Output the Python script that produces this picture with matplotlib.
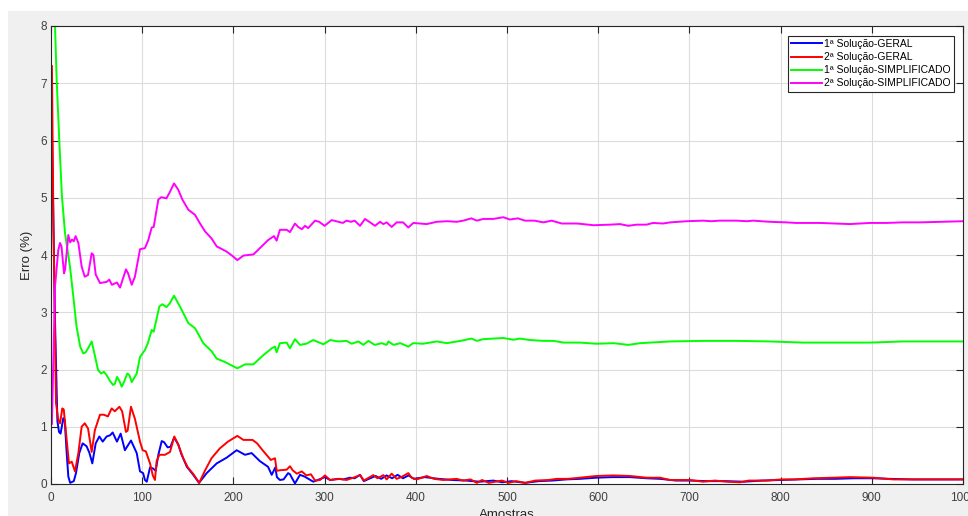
import matplotlib
matplotlib.use("Agg")
import matplotlib.pyplot as plt
from matplotlib.patches import Rectangle

# Leituras do gráfico (amostra, erro %)
x_geral1 = [1, 4.4, 7, 8.8, 10.5, 13.5, 15, 17.2, 19, 21, 25, 27.4, 31, 34.7, 39, 42, 45.3, 49, 53, 56.7,
            61, 64.7, 67.6, 72.3, 76.4, 81, 87.7, 94, 97.6, 101, 103, 105, 108.6, 112, 114.8, 117.7, 121.4,
            124, 127.9, 131, 135, 139.5, 143, 149, 156, 162.3, 170.7, 181.7, 192.6, 203.6, 212.7, 220, 229,
            238, 242, 246, 247.7, 251, 255, 260, 262, 267.5, 273, 278, 287.6,
            300.4, 306, 315, 320.5, 327.8, 333, 338.8, 343, 350, 356, 362, 368, 374, 380, 386, 392, 398, 410,
            425, 440, 455, 470, 485, 495, 505, 520, 535, 550, 565, 580, 598, 615, 635, 653, 668, 685, 700,
            720, 740, 760, 780, 800, 820, 840, 860, 880, 900, 920, 945, 970, 1000]
y_geral1 = [6.2, 2.86, 1.1, 0.91, 0.88, 1.15, 1.12, 0.54, 0.13, 0.02, 0.05, 0.19, 0.54, 0.71, 0.66, 0.55, 0.36,
            0.71, 0.83, 0.74, 0.83, 0.85, 0.90, 0.74, 0.88, 0.59, 0.76, 0.54, 0.22, 0.19, 0.07, 0.04, 0.29,
            0.27, 0.23, 0.51, 0.75, 0.73, 0.64, 0.65, 0.81, 0.69, 0.52, 0.30, 0.16, 0.02, 0.19, 0.36, 0.46,
            0.59, 0.51, 0.54, 0.40, 0.30, 0.16, 0.29, 0.12, 0.07, 0.08, 0.19, 0.17, 0.01, 0.16, 0.13, 0.04,
            0.12, 0.07, 0.09, 0.08, 0.11, 0.10, 0.16, 0.05, 0.10, 0.14, 0.09, 0.15, 0.10, 0.16, 0.10, 0.15,
            0.09, 0.12, 0.09, 0.07, 0.06, 0.04, 0.06, 0.03, 0.05, 0.02, 0.05, 0.06, 0.08, 0.09, 0.11, 0.12,
            0.12, 0.10, 0.09, 0.06, 0.06, 0.05, 0.05, 0.04, 0.06, 0.07, 0.08, 0.09, 0.09, 0.10, 0.10, 0.09,
            0.08, 0.08, 0.08]

x_geral2 = [1, 2.6, 5.5, 8, 9.9, 12.4, 14, 17.2, 19.7, 22.7, 26.3, 30, 33.6, 37, 40.6, 44.6, 48.1, 53.7, 58,
            62.4, 66.5, 70, 75, 78, 82.2, 84, 87.7, 92, 97.6, 100.5, 104, 108.6, 111.6, 114, 115.8, 118.8, 125,
            130.5, 135.2, 139.5, 145, 150, 156, 162.5, 169, 176, 185, 194, 204.3, 211, 221, 226, 232, 241,
            245.6, 247.5, 251, 258.4, 262, 265, 269.6, 275, 280, 285, 289.5, 295, 300.4,
            306, 317, 324, 331.5, 339, 343, 353.4, 358, 364.4, 368, 373.5, 379, 384, 391.8, 395.4, 401, 412,
            420, 430, 444.6, 452, 460, 467, 472.6, 480, 494.5, 501.8, 510, 520, 531, 545.6, 554.5, 567, 580,
            598, 616.6, 635, 653, 668, 678.6, 700.7, 715, 728, 741, 755.5, 765, 784.6, 801, 815, 836, 857.6,
            876, 902, 923.6, 942, 970, 1000]
y_geral2 = [7.3, 4.61, 1.41, 1.12, 1.06, 1.32, 1.30, 0.77, 0.36, 0.39, 0.22, 0.54, 1.00, 1.06, 0.97, 0.56,
            0.94, 1.21, 1.21, 1.18, 1.32, 1.27, 1.35, 1.27, 0.91, 0.93, 1.35, 1.14, 0.74, 0.59, 0.57, 0.36,
            0.15, 0.07, 0.40, 0.51, 0.51, 0.56, 0.83, 0.69, 0.45, 0.29, 0.175, 0.02, 0.24, 0.45, 0.62, 0.74,
            0.84, 0.77, 0.77, 0.71, 0.59, 0.42, 0.45, 0.23, 0.24, 0.25, 0.31, 0.24, 0.18, 0.22, 0.15, 0.17,
            0.06, 0.07, 0.15,
            0.07, 0.09, 0.07, 0.11, 0.155, 0.06, 0.155, 0.10, 0.155, 0.08, 0.18, 0.09, 0.12, 0.19, 0.11, 0.08,
            0.14, 0.09, 0.07, 0.09, 0.06, 0.08, 0.02, 0.07, 0.02, 0.06, 0.02, 0.05, 0.02, 0.06, 0.07, 0.09,
            0.09, 0.11, 0.14, 0.15, 0.14, 0.11, 0.11, 0.07, 0.07, 0.04, 0.06, 0.04, 0.03, 0.06, 0.06, 0.08,
            0.08, 0.10, 0.11, 0.12, 0.11, 0.08, 0.08, 0.08, 0.08]

x_simp1 = [1, 4.4, 6.2, 9.1, 12, 15.4, 20.8, 24.5, 28, 32, 35.4, 38, 41, 44.6, 48, 51.6, 55, 58, 61, 64.7,
           68, 70, 72.4, 75, 77.5, 80, 83.7, 86, 88.5, 94, 97.6, 103, 106, 110.4, 112.6, 118.8, 122, 126.6,
           130, 134.9, 141.4, 150.6, 158, 167, 176, 181.7, 190.8, 204.3, 212.7, 221.9, 232.8, 242, 245.6,
           247.4, 251, 258.4, 262, 267.5, 273, 280, 287.6, 298.6, 306, 315, 324, 329.7, 337, 342.5, 348,
           355, 362.6, 368, 370, 375.5, 383, 391.8, 397, 408, 423, 434, 449, 461, 467, 474, 485, 496, 507,
           514, 525, 540, 551, 562, 580, 598, 617, 633, 646, 679, 715, 752, 788, 825, 861, 898, 934, 1000]
y_simp1 = [9.2, 8.0, 7.06, 6.0, 5.02, 4.38, 3.80, 3.27, 2.75, 2.40, 2.28, 2.30, 2.38, 2.49, 2.25, 1.99, 1.93,
           1.96, 1.90, 1.80, 1.73, 1.75, 1.87, 1.80, 1.70, 1.78, 1.93, 1.90, 1.78, 1.93, 2.22, 2.34, 2.45,
           2.69, 2.66, 3.10, 3.14, 3.09, 3.15, 3.29, 3.10, 2.81, 2.72, 2.46, 2.32, 2.19, 2.13, 2.02, 2.09,
           2.09, 2.25, 2.37, 2.40, 2.30, 2.46, 2.47, 2.37, 2.53, 2.43, 2.45, 2.515, 2.44, 2.515, 2.49, 2.50,
           2.45, 2.49, 2.43, 2.50, 2.43, 2.46, 2.43, 2.49, 2.43, 2.46, 2.40, 2.46, 2.45, 2.49, 2.46, 2.50,
           2.54, 2.50, 2.53, 2.54, 2.55, 2.52, 2.54, 2.515, 2.50, 2.50, 2.47, 2.47, 2.45, 2.46, 2.43, 2.46,
           2.49, 2.50, 2.50, 2.49, 2.47, 2.47, 2.47, 2.49, 2.49]

x_simp2 = [1, 4.4, 8, 9.9, 11.5, 14.3, 15.5, 19, 21, 23, 25, 27, 30, 33.6, 37, 40.6, 44.6, 46.5, 49, 53.7,
           61, 63.9, 66.8, 72.3, 75.7, 82.2, 84.5, 88.5, 92, 97.6, 103, 106.7, 110.4, 112.6, 117.7, 121, 126.6,
           130, 134.9, 139.5, 144, 150.6, 158, 163.4, 169, 176, 181.7, 192.6, 200, 204.3, 211, 222, 229, 238,
           244.5, 247.4, 251, 258.4, 262, 267.5, 271, 275, 278.6, 282, 289.5, 294, 300, 307.8, 315, 320, 324,
           329, 333, 338.8, 344.3, 349.8, 355.3, 360.8, 364.4, 368, 373.5, 379, 386, 391.8, 397.3, 411.9, 423,
           434, 445, 452, 461, 467, 474, 485, 496, 503, 512, 519.7, 530, 540, 549, 560, 577, 595, 613, 624,
           633, 642, 653, 660, 671, 679, 697, 715, 724, 733, 752, 763, 770, 788, 806, 817, 843, 876, 898, 916,
           934, 953, 1000]
y_simp2 = [1.05, 3.45, 4.09, 4.21, 4.15, 3.68, 3.75, 4.35, 4.22, 4.27, 4.24, 4.33, 4.21, 3.80, 3.62, 3.65,
           4.03, 4.00, 3.66, 3.51, 3.53, 3.57, 3.48, 3.52, 3.43, 3.75, 3.68, 3.48, 3.62, 4.10, 4.12, 4.26,
           4.48, 4.49, 4.97, 5.01, 4.99, 5.09, 5.25, 5.14, 4.97, 4.79, 4.70, 4.55, 4.41, 4.29, 4.15, 4.06,
           3.97, 3.91, 3.99, 4.01, 4.12, 4.26, 4.33, 4.25, 4.44, 4.44, 4.40, 4.55, 4.49, 4.45, 4.51, 4.47,
           4.60, 4.58, 4.51, 4.61, 4.58, 4.56, 4.60, 4.58, 4.60, 4.51, 4.63, 4.57, 4.51, 4.58, 4.54, 4.57,
           4.49, 4.57, 4.57, 4.48, 4.56, 4.54, 4.58, 4.59, 4.58, 4.60, 4.64, 4.60, 4.63, 4.63, 4.66, 4.62,
           4.64, 4.60, 4.60, 4.57, 4.60, 4.55, 4.55, 4.52, 4.53, 4.54, 4.51, 4.53, 4.53, 4.56, 4.55, 4.57,
           4.59, 4.60, 4.59, 4.60, 4.60, 4.59, 4.60, 4.58, 4.57, 4.56, 4.56, 4.54, 4.56, 4.56, 4.57, 4.57,
           4.59]

labels = ["1ª Solução-GERAL", "2ª Solução-GERAL", "1ª Solução-SIMPLIFICADO", "2ª Solução-SIMPLIFICADO"]
colors = ["#0000ff", "#ff0000", "#00ff00", "#ff00ff"]

plt.rcParams["font.family"] = ["Liberation Sans", "DejaVu Sans"]

W, H = 968, 516
fig = plt.figure(figsize=(W / 100, H / 100), dpi=100, facecolor="white")
# fundo cinza estilo MATLAB (atrás dos eixos)
fig.patches.append(Rectangle((8 / W, 0), 1, (H - 11) / H, transform=fig.transFigure,
                             facecolor="#f0f0f0", edgecolor="none", zorder=-10))

ax = fig.add_axes([51 / W, 32 / H, 912 / W, 458 / H])
ax.set_facecolor("white")

series = [(x_geral1, y_geral1), (x_geral2, y_geral2), (x_simp1, y_simp1), (x_simp2, y_simp2)]
for (xs, ys), c, lab in zip(series, colors, labels):
    ax.plot(xs, ys, color=c, lw=1.4, label=lab)

ax.set_xlim(0, 1000)
ax.set_ylim(0, 8)
ax.set_xticks(range(0, 1001, 100))
ax.set_yticks(range(0, 9))
ax.grid(True, color="#dcdcdc", lw=0.8)
ax.set_axisbelow(True)
ax.tick_params(direction="in", top=True, right=True, length=5, width=0.8,
               color="#262626", labelcolor="#404040", labelsize=8.5)
ax.tick_params(axis="x", pad=6)
ax.tick_params(axis="y", pad=3)
for sp in ax.spines.values():
    sp.set_color("#262626")
    sp.set_linewidth(0.8)

ax.set_xlabel("Amostras", fontsize=9.5, color="#262626", labelpad=3)
ax.set_ylabel("Erro (%)", fontsize=9.5, color="#262626", labelpad=5)

leg = ax.legend(loc="upper right", bbox_to_anchor=(1 - 9 / 912, 1 - 10 / 458), borderaxespad=0,
                fontsize=7.5, fancybox=False, framealpha=1, edgecolor="#262626",
                handlelength=3.0, handletextpad=0.2, labelspacing=0.3, borderpad=0.3)
leg.get_frame().set_linewidth(0.8)

fig.savefig("out.png", dpi=100)
